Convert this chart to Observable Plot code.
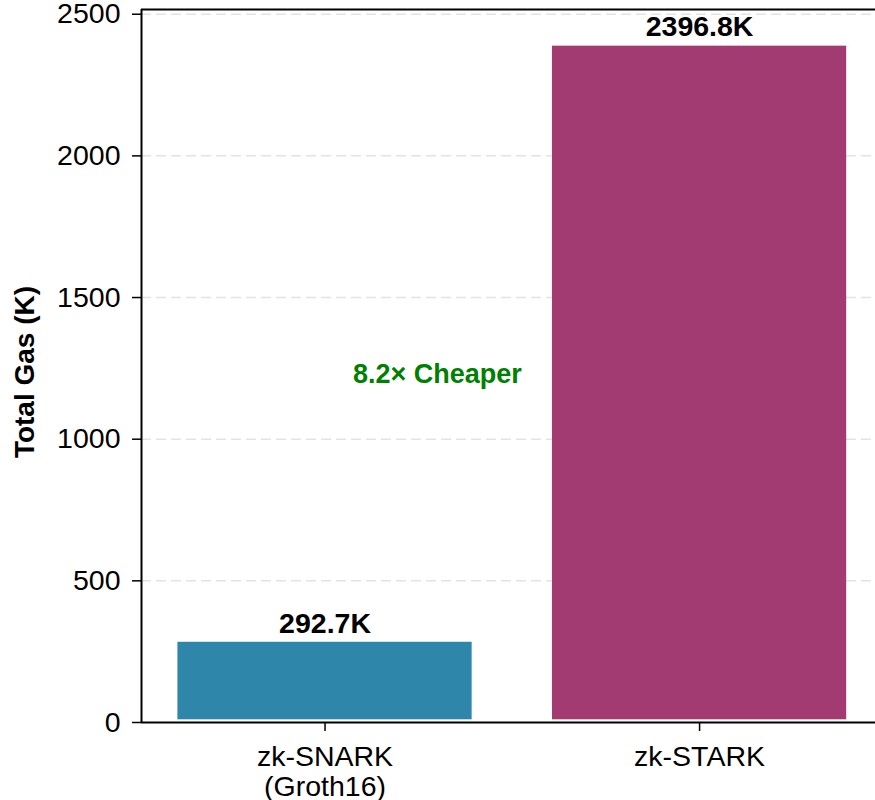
<!DOCTYPE html>
<html>
<head>
<meta charset="utf-8">
<script src="https://cdn.jsdelivr.net/npm/d3@7"></script>
<script src="https://cdn.jsdelivr.net/npm/@observablehq/plot@0.6"></script>
<style>
  html, body { margin: 0; padding: 0; background: white; }
</style>
</head>
<body>
<div id="chart"></div>
<script>
// Data
const categories = ["zk-SNARK\n(Groth16)", "zk-STARK"];
const gasK = [292.7, 2396.8];
const barColors = ["#2E86AB", "#A23B72"];
const yTicks = [0, 500, 1000, 1500, 2000, 2500];
const yLabel = "Total Gas (K)";
const ratio = gasK[1] / gasK[0];
const annotation = `${ratio.toFixed(1)}× Cheaper`;

const data = categories.map((c, i) => ({i, category: c, value: gasK[i], color: barColors[i]}));
const yMax = d3.max(gasK) * 1.05;
const xDomain = [-0.49, 1.4697];
const font = "'Liberation Sans', Arial, Helvetica, sans-serif";

const chart = Plot.plot({
  width: 875,
  height: 800,
  marginTop: 9,
  marginBottom: 78,
  marginLeft: 141,
  marginRight: 0,
  style: {fontFamily: font, fontSize: "28px", color: "black", background: "white"},
  x: {type: "linear", domain: xDomain},
  y: {domain: [0, yMax]},
  color: {type: "identity"},
  marks: [
    Plot.gridY(yTicks.filter(t => t > 0), {stroke: "#b0b0b0", strokeOpacity: 0.35, strokeDasharray: "10,5", strokeWidth: 1.5}),
    Plot.rectY(data, {x1: d => d.i - 0.4, x2: d => d.i + 0.4, y1: 0, y2: "value", fill: "color", inset: 2.7}),
    Plot.text(data, {x: "i", y: "value", text: d => `${d.value.toFixed(1)}K`, lineAnchor: "bottom", dy: -7, fontWeight: "bold", fontSize: 28.5, fill: "black"}),
    Plot.text([annotation], {x: 0.3, y: d3.max(gasK) / 2, text: d => d, lineAnchor: "bottom", fontWeight: "bold", fontSize: 27, fill: "green"}),
    Plot.ruleY([0], {stroke: "black", strokeWidth: 2}),
    Plot.ruleY([yMax], {stroke: "black", strokeWidth: 2}),
    Plot.ruleX([xDomain[0]], {stroke: "black", strokeWidth: 2}),
    Plot.axisY({ticks: yTicks, tickFormat: d => String(d), tickSize: 9, tickPadding: 12, label: null, fontSize: 28.5, strokeWidth: 1.5}),
    Plot.axisX({ticks: [0, 1], tickFormat: i => categories[i], tickSize: 9, tickPadding: 14, label: null, fontSize: 28.5, lineHeight: 1.03, strokeWidth: 1.5}),
    Plot.text([yLabel], {frameAnchor: "left", textAnchor: "middle", dx: -116, dy: 6, rotate: -90, text: d => d, fontWeight: "bold", fontSize: 28, fill: "black"})
  ]
});
document.getElementById("chart").appendChild(chart);
</script>
</body>
</html>
